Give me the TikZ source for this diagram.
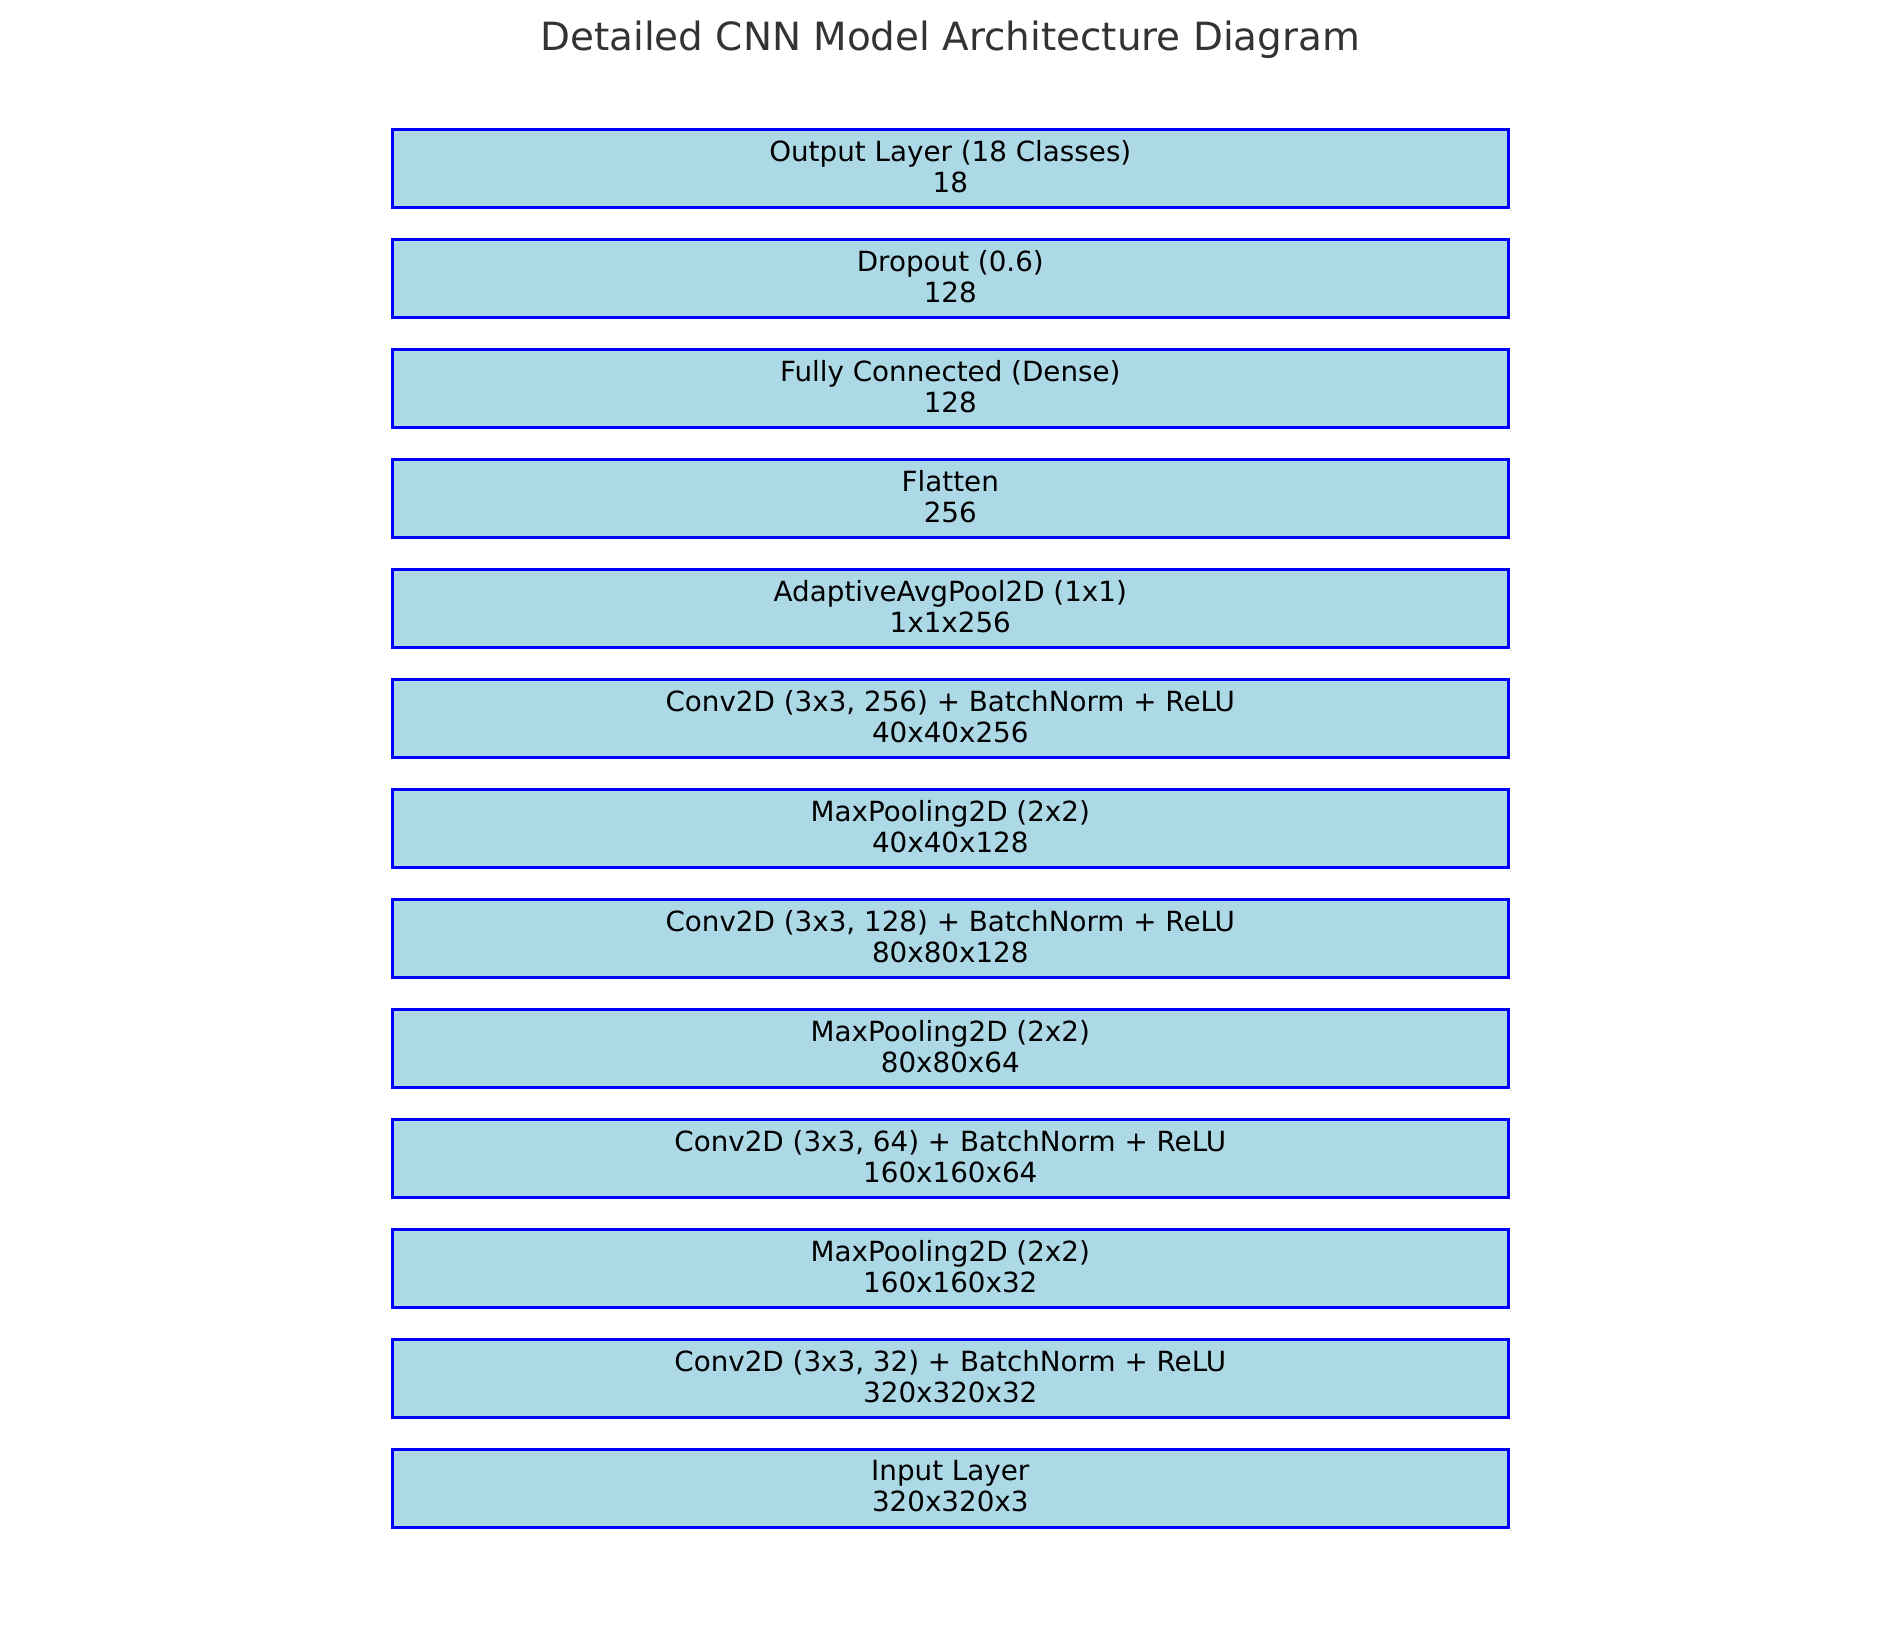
\documentclass[tikz,border=0pt]{standalone}
\usepackage{fontspec}
\setmainfont{DejaVu Sans}
\definecolor{boxfill}{RGB}{173,216,230}
\definecolor{boxedge}{RGB}{0,0,255}
\definecolor{titlegray}{RGB}{51,51,51}

\tikzstyle{layer} = [rectangle,draw=boxedge,fill=boxfill,line width=1pt,minimum width=401.76pt,minimum height=28.08pt,inner sep=0pt,align=center,font=\fontsize{10}{11.2}\selectfont,execute at end node={\rule[-1.5pt]{0pt}{1.5pt}}]

\begin{document}
\begin{tikzpicture}[x=0.36pt,y=-0.36pt]
	\useasboundingbox (0,0) rectangle (1900,1626);
	\node[anchor=base,text=titlegray,font=\fontsize{14}{16.8}\selectfont] (title) at (950.3,50.7) {Detailed CNN Model Architecture Diagram};
	
	\node[layer] (n13) at (950.3,168.3) {Output Layer (18 Classes)\\18};
	\node[layer] (n12) at (950.3,278.3) {Dropout (0.6)\\128};
	\node[layer] (n11) at (950.3,388.3) {Fully Connected (Dense)\\128};
	\node[layer] (n10) at (950.3,498.3) {Flatten\\256};
	\node[layer] (n9) at (950.3,608.3) {AdaptiveAvgPool2D (1x1)\\1x1x256};
	\node[layer] (n8) at (950.3,718.3) {Conv2D (3x3, 256) + BatchNorm + ReLU\\40x40x256};
	\node[layer] (n7) at (950.3,828.3) {MaxPooling2D (2x2)\\40x40x128};
	\node[layer] (n6) at (950.3,938.3) {Conv2D (3x3, 128) + BatchNorm + ReLU\\80x80x128};
	\node[layer] (n5) at (950.3,1048.3) {MaxPooling2D (2x2)\\80x80x64};
	\node[layer] (n4) at (950.3,1158.3) {Conv2D (3x3, 64) + BatchNorm + ReLU\\160x160x64};
	\node[layer] (n3) at (950.3,1268.3) {MaxPooling2D (2x2)\\160x160x32};
	\node[layer] (n2) at (950.3,1378.3) {Conv2D (3x3, 32) + BatchNorm + ReLU\\320x320x32};
	\node[layer] (n1) at (950.3,1488.3) {Input Layer\\320x320x3};
	\end{tikzpicture}
\end{document}
